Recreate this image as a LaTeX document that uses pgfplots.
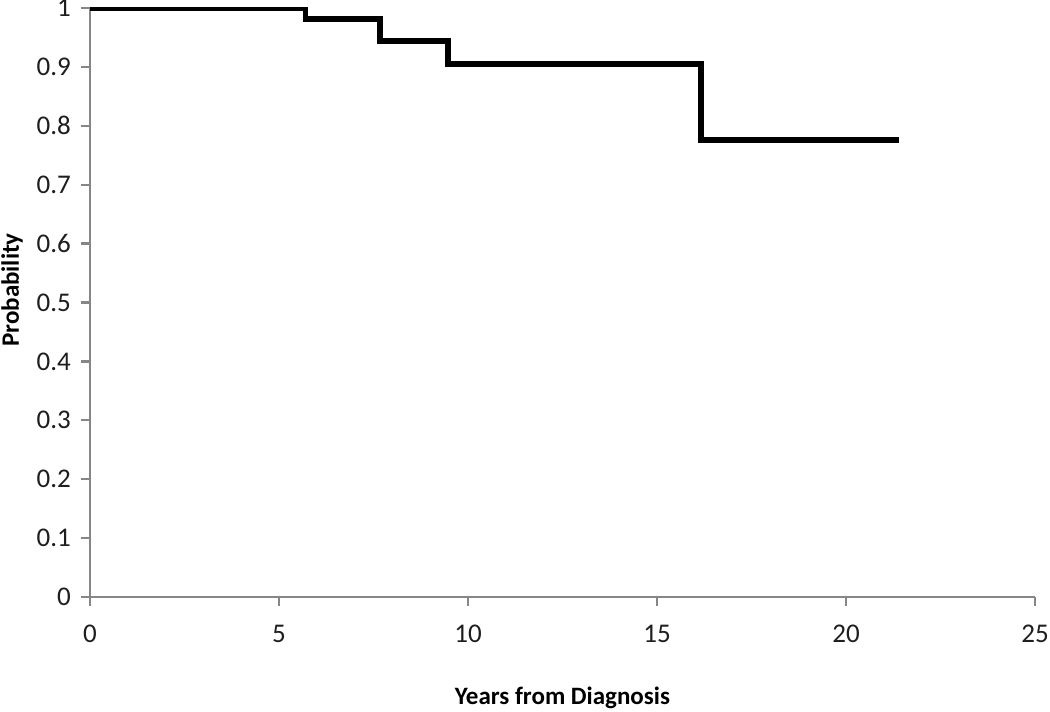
\documentclass[border=0pt]{standalone}
\usepackage{pgfplots}
\pgfplotsset{compat=1.18}
\usepackage{fontspec}
\setmainfont{Carlito}
\definecolor{axisgray}{RGB}{134,134,134}
\definecolor{labelgray}{RGB}{30,30,30}
\begin{document}
\begin{tikzpicture}
\begin{axis}[
    scale only axis,
    width=378pt, height=235.6pt,
    xmin=0, xmax=25, ymin=0, ymax=1,
    xtick={0,5,...,25},
    ytick={0,0.1,...,1},
    yticklabel style={/pgf/number format/fixed, /pgf/number format/precision=1},
    /pgf/number format/assume math mode=true,
    axis lines*=left,
    axis line style={axisgray, line width=0.9pt},
    tick style={axisgray, line width=0.9pt},
    tick align=outside,
    major tick length=3.6pt,
    ticklabel style={font=\fontsize{10.8}{12}\selectfont, text=labelgray},
    xticklabel style={yshift=-4pt},
    yticklabel style={xshift=-0.5pt},
    xlabel={\textbf{Years from Diagnosis}},
    ylabel={\textbf{Probability}},
    label style={font=\fontsize{8.6}{10}\selectfont, text=black},
    every axis x label/.style={at={(axis description cs:0.5,0)}, anchor=center, yshift=-40.5pt},
    every axis y label/.style={at={(axis description cs:0,0.5)}, rotate=90, anchor=center, yshift=31.2pt, xshift=5pt},
]
\addplot[black, line width=2.3pt, const plot, line join=miter] coordinates {
    (0,1) (5.7,0.981) (7.67,0.944) (9.47,0.905) (16.16,0.776) (21.4,0.776)
};
\coordinate (sw) at (rel axis cs:0,0);
\coordinate (ne) at (rel axis cs:1,1);
\end{axis}
\pgfresetboundingbox
\useasboundingbox ([shift={(-36pt,-46pt)}]sw) rectangle ([shift={(6pt,3.2pt)}]ne);
\end{tikzpicture}
\end{document}
